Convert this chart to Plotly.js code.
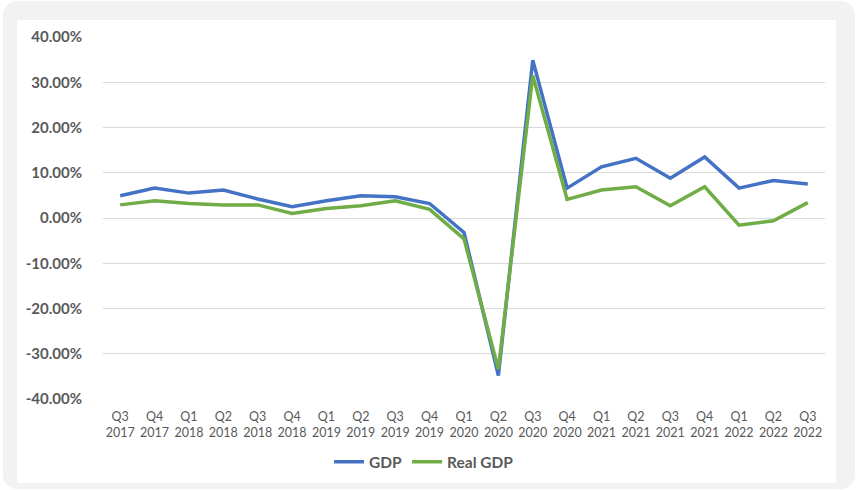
<!DOCTYPE html>
<html>
<head>
<meta charset="utf-8">
<script src="https://cdn.plot.ly/plotly-3.0.1.min.js"></script>
<style>
  html, body { margin: 0; padding: 0; background: #ffffff; }
  #frame {
    position: absolute; left: 3px; top: 1px; width: 852px; height: 488px;
    background: #f2f2f2; border-radius: 14px;
  }
  #chart {
    position: absolute; left: 17px; top: 20px; width: 819px; height: 463px;
    background: #ffffff;
  }
</style>
</head>
<body>
<div id="frame"></div>
<div id="chart"></div>
<script>
// Quarterly growth rates, annualized (%)
const quarters = [
  'Q3 2017', 'Q4 2017', 'Q1 2018', 'Q2 2018', 'Q3 2018', 'Q4 2018', 'Q1 2019',
  'Q2 2019', 'Q3 2019', 'Q4 2019', 'Q1 2020', 'Q2 2020', 'Q3 2020', 'Q4 2020',
  'Q1 2021', 'Q2 2021', 'Q3 2021', 'Q4 2021', 'Q1 2022', 'Q2 2022', 'Q3 2022'
];
const gdp = [4.9, 6.6, 5.5, 6.2, 4.2, 2.5, 3.8, 4.9, 4.7, 3.2, -3.2, -34.8, 34.9,
             6.6, 11.3, 13.2, 8.8, 13.5, 6.6, 8.3, 7.5];
const realGdp = [2.9, 3.8, 3.2, 2.9, 2.9, 1.0, 2.1, 2.7, 3.8, 1.9, -4.6, -33.4, 31.5,
                 4.1, 6.2, 6.9, 2.7, 6.9, -1.6, -0.6, 3.4];
const yTicks = [-40, -30, -20, -10, 0, 10, 20, 30, 40];

const xTickText = quarters.map(q => q.replace(' ', '<br>'));
const yTickText = yTicks.map(v => v.toFixed(2) + '%');

const traces = [
  { x: quarters, y: gdp, name: 'GDP', type: 'scatter', mode: 'lines',
    line: { color: '#4472C4', width: 3.5 } },
  { x: quarters, y: realGdp, name: 'Real GDP', type: 'scatter', mode: 'lines',
    line: { color: '#70AD47', width: 3.5 } }
];

const layout = {
  width: 819, height: 463,
  margin: { l: 86, r: 11, t: 17, b: 84, autoexpand: false },
  paper_bgcolor: '#ffffff', plot_bgcolor: '#ffffff',
  showlegend: true,
  legend: {
    orientation: 'h', xref: 'container', x: 0.497, xanchor: 'center',
    yref: 'container', y: 0.045, yanchor: 'middle',
    font: { family: 'Lato, "Open Sans", sans-serif', size: 15.5, color: '#595959', weight: 'bold' },
    itemwidth: 30, tracegroupgap: 0
  },
  xaxis: {
    type: 'category', range: [-0.5, quarters.length - 0.5],
    tickvals: quarters, ticktext: xTickText, automargin: false,
    showgrid: false, zeroline: false, showline: false,
    ticks: 'outside', ticklen: 6, tickcolor: 'rgba(0,0,0,0)',
    tickfont: { family: 'Lato, "Open Sans", sans-serif', size: 12.5, color: '#595959' }
  },
  yaxis: {
    range: [-40, 40], tickvals: yTicks, ticktext: yTickText, automargin: false,
    showgrid: true, gridcolor: '#d9d9d9', gridwidth: 1,
    zeroline: false, showline: false,
    ticks: 'outside', ticklen: 17, tickcolor: 'rgba(0,0,0,0)',
    tickfont: { family: 'Lato, "Open Sans", sans-serif', size: 15, color: '#595959', weight: 'bold' }
  }
};

Plotly.newPlot('chart', traces, layout, { displayModeBar: false, staticPlot: true });
</script>
</body>
</html>
